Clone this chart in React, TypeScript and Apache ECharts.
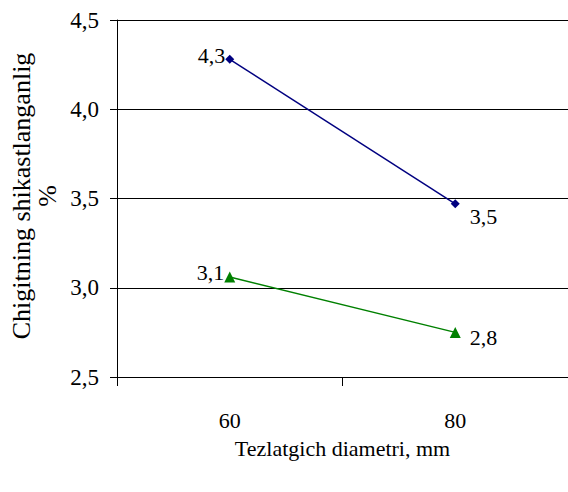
import { useEffect, useRef } from "react";
import * as echarts from "echarts";

// Seed-delinter drum diameter (mm) vs. seed damage (%)
const diameters = ["60", "80"];
const upperSeries = [4.28, 3.47];
const lowerSeries = [3.06, 2.75];

const yMin = 2.5;
const yMax = 4.5;
const yStep = 0.5;

const FONT = "Liberation Serif";

const fmt = (v: number) => v.toFixed(1).replace(".", ",");

export default function App() {
  const ref = useRef<HTMLDivElement>(null);

  useEffect(() => {
    document.body.style.margin = "0";
    if (!ref.current) return;
    const chart = echarts.init(ref.current, undefined, { renderer: "svg" });

    const upperLabels = [
      { position: "left", distance: 0, offset: [0, -4] },
      { position: "right", distance: 10, offset: [0, 13] },
    ];
    const lowerLabels = [
      { position: "left", distance: 0, offset: [0, -5] },
      { position: "right", distance: 9, offset: [0, 5] },
    ];

    const textStyle = { color: "#000", fontFamily: FONT, fontSize: 22 };

    chart.setOption({
      animation: false,
      backgroundColor: "#ffffff",
      textStyle: { fontFamily: FONT },
      grid: { left: 117, top: 20, width: 456, height: 357, containLabel: false },
      xAxis: {
        type: "category",
        data: diameters,
        boundaryGap: true,
        axisLine: { show: true, lineStyle: { color: "#000", width: 1 } },
        axisTick: { show: true, alignWithLabel: false, length: 9, lineStyle: { color: "#000" } },
        axisLabel: { ...textStyle, margin: 32 },
        splitLine: { show: false },
        name: "Tezlatgich diametri, mm",
        nameLocation: "middle",
        nameGap: 60,
        nameTextStyle: { ...textStyle },
      },
      yAxis: {
        type: "value",
        min: yMin,
        max: yMax,
        interval: yStep,
        axisLine: { show: true, lineStyle: { color: "#000", width: 1 } },
        axisTick: { show: true, inside: false, length: 7, lineStyle: { color: "#000" } },
        axisLabel: {
          ...textStyle,
          fontSize: 23,
          margin: 18,
          formatter: (v: number) => fmt(v),
        },
        splitLine: { show: true, lineStyle: { color: "#000", width: 1 } },
      },
      graphic: [
        {
          type: "text",
          x: 34,
          y: 196,
          rotation: Math.PI / 2,
          style: {
            text: "Chigitning shikastlanganlig\n%",
            fill: "#000",
            fontFamily: FONT,
            fontSize: 26,
            align: "center",
            verticalAlign: "middle",
            lineHeight: 26,
          },
        },
      ],
      series: [
        {
          type: "line",
          data: upperSeries.map((v, i) => ({ value: v, label: upperLabels[i] })),
          symbol: "diamond",
          symbolSize: 9,
          itemStyle: { color: "#000080" },
          lineStyle: { color: "#000080", width: 1.5 },
          label: {
            show: true,
            ...textStyle,
            formatter: (p: any) => fmt(p.value),
          },
        },
        {
          type: "line",
          data: lowerSeries.map((v, i) => ({ value: v, label: lowerLabels[i] })),
          symbol: "triangle",
          symbolSize: 11,
          itemStyle: { color: "#008000" },
          lineStyle: { color: "#008000", width: 1.5 },
          label: {
            show: true,
            ...textStyle,
            formatter: (p: any) => fmt(p.value),
          },
        },
      ],
    });

    return () => chart.dispose();
  }, []);

  return <div ref={ref} style={{ width: 568, height: 492 }} />;
}
